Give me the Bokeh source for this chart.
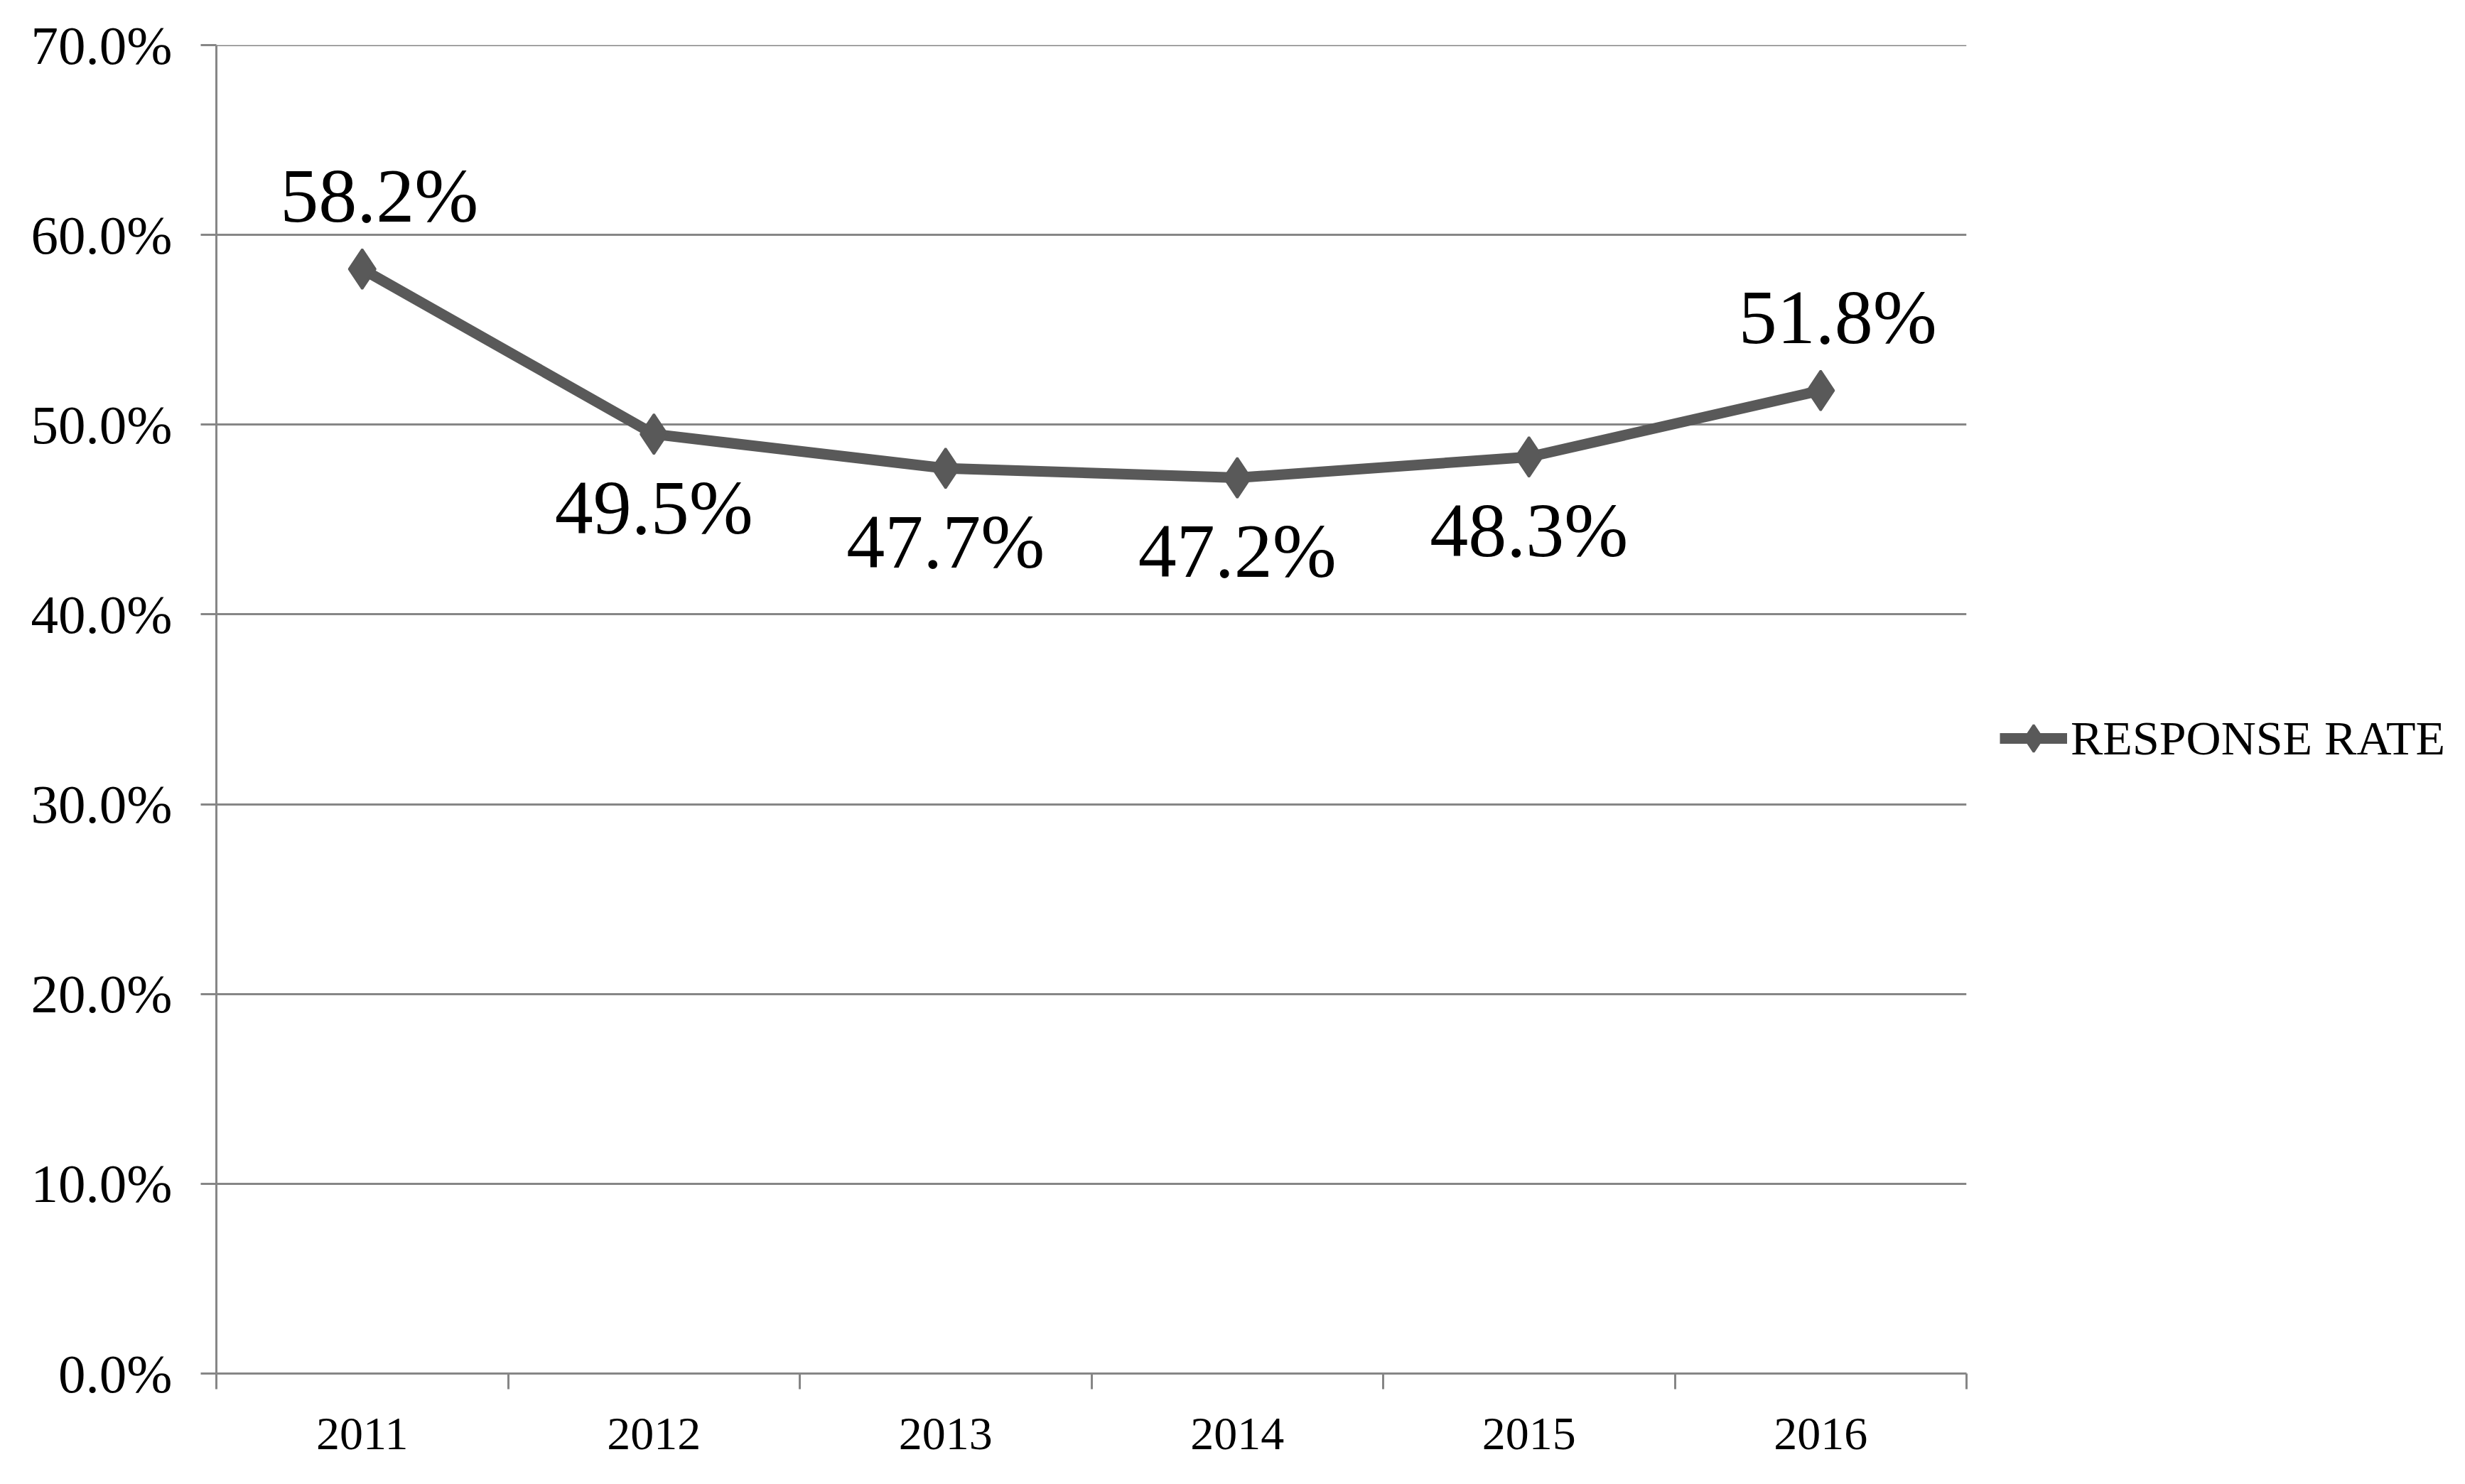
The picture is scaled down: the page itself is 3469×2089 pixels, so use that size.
from bokeh.plotting import figure
from bokeh.models import (ColumnDataSource, FixedTicker, NumeralTickFormatter,
                          Legend, LegendItem, Range1d)
from bokeh.embed import file_html
from bokeh.resources import INLINE
from bokeh.core.properties import value

# ---- data ----
years = ["2011", "2012", "2013", "2014", "2015", "2016"]
response_rate = [58.2, 49.5, 47.7, 47.2, 48.3, 51.8]
y_ticks = [0, 10, 20, 30, 40, 50, 60, 70]
series_name = "RESPONSE RATE"

# ---- styles ----
label_side = ["above", "below", "below", "below", "below", "above"]
FONT = "Liberation Serif"
LINE_COLOR = "#595959"
GRID_COLOR = "#868686"

x = [i + 0.5 for i in range(len(years))]
y = [v / 100 for v in response_rate]
labels = [f"{v:.1f}%" for v in response_rate]
yoffs = [-103 if s == "above" else 103 for s in label_side]
xoffs = [24 if s == "above" else 0 for s in label_side]

src = ColumnDataSource(dict(x=x, y=y, label=labels, yoff=yoffs, xoff=xoffs))

p = figure(frame_width=2463, frame_height=1870,
           output_backend="svg", toolbar_location=None,
           x_range=Range1d(0, len(years)),
           y_range=Range1d(0, y_ticks[-1] / 100 + 0.00001),
           min_border_left=304, min_border_top=63, min_border_bottom=140,
           min_border_right=10)
p.outline_line_color = None
p.background_fill_color = "white"
p.border_fill_color = "white"

# x axis: labels at centres, ticks at category boundaries (minor ticks)
xa = p.xaxis[0]
xa.ticker = FixedTicker(ticks=x, minor_ticks=list(range(len(years) + 1)))
xa.major_label_overrides = {xx: yr for xx, yr in zip(x, years)}
xa.major_tick_out = 0
xa.major_tick_in = 0
xa.minor_tick_out = 22
xa.minor_tick_in = 0
xa.minor_tick_line_color = GRID_COLOR
xa.minor_tick_line_width = 3
xa.axis_line_color = GRID_COLOR
xa.axis_line_width = 3
xa.major_label_text_font = FONT
xa.major_label_text_font_size = "66px"
xa.major_label_text_color = "black"
xa.major_label_standoff = 41

ya = p.yaxis[0]
ya.ticker = FixedTicker(ticks=[t / 100 for t in y_ticks], minor_ticks=[])
ya.formatter = NumeralTickFormatter(format="0.0%")
ya.major_tick_out = 22
ya.major_tick_in = 0
ya.major_tick_line_color = GRID_COLOR
ya.major_tick_line_width = 3
ya.minor_tick_out = 0
ya.minor_tick_in = 0
ya.axis_line_color = GRID_COLOR
ya.axis_line_width = 3
ya.major_label_text_font = FONT
ya.major_label_text_font_size = "77px"
ya.major_label_text_color = "black"
ya.major_label_standoff = 40

p.xgrid.visible = False
p.ygrid.ticker = FixedTicker(ticks=[t / 100 for t in y_ticks])
p.ygrid.grid_line_color = GRID_COLOR
p.ygrid.grid_line_width = 3

line_r = p.line("x", "y", source=src, line_color=LINE_COLOR, line_width=15)
mark_r = p.scatter("x", "y", source=src, marker="diamond", size=56,
                   fill_color=LINE_COLOR, line_color=LINE_COLOR, line_width=3)
p.text("x", "y", text="label", source=src, x_offset="xoff", y_offset="yoff",
       text_align="center", text_baseline="middle",
       text_font=value(FONT), text_font_size="108px", text_color="black")

legend = Legend(items=[LegendItem(label=series_name, renderers=[line_r, mark_r])],
                location=(47, 839), margin=0, padding=0, spacing=0,
                glyph_width=95, glyph_height=110, label_standoff=5,
                label_text_font=FONT, label_text_font_size="68px",
                label_text_color="black", border_line_color=None,
                background_fill_alpha=0)
p.add_layout(legend, "right")

open("out.html", "w").write(file_html(p, INLINE))
